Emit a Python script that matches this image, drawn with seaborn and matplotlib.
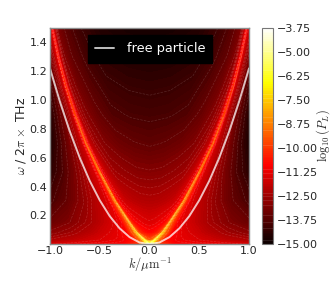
import seaborn as sns
import matplotlib.pyplot as plt
import numpy as np

# frequency rows and where the bright ridge sits on each row
omega_rows = [0.0, 0.03, 0.08, 0.15, 0.3, 0.5, 0.7, 0.9, 1.1, 1.3, 1.5]
ridge_k = [0.004, 0.05, 0.128, 0.2, 0.345, 0.5, 0.64, 0.75, 0.845, 0.92, 0.98]

# columns: fraction of the ridge position inside it, fraction of the way to k=1 outside it
inner_frac = [0.0, 0.25, 0.5, 0.7, 0.85, 0.94, 0.98, 1.0]
outer_frac = [0.03, 0.1, 0.25, 0.5, 0.75, 1.0]

# log10(P_L) on that grid
log_pl = [
    [-4.5, -4.5, -4.5, -4.5, -4.5, -4.5, -4.5, -4.5, -7.5, -10.0, -10.9, -11.1, -11.3, -11.6],
    [-9.6, -9.5, -9.2, -8.8, -8.0, -7.5, -7.1, -6.8, -8.8, -10.6, -11.2, -11.6, -12.0, -12.3],
    [-10.9, -10.8, -10.6, -10.3, -9.8, -9.2, -8.5, -7.7, -9.2, -10.8, -11.4, -12.0, -12.5, -12.9],
    [-11.5, -11.4, -11.2, -11.0, -10.6, -10.0, -9.2, -8.2, -9.7, -11.1, -11.7, -12.4, -13.0, -13.4],
    [-12.2, -12.15, -12.0, -11.8, -11.4, -10.8, -9.9, -8.7, -10.1, -11.4, -12.0, -12.8, -13.5, -14.0],
    [-12.95, -12.9, -12.7, -12.5, -12.0, -11.4, -10.5, -9.1, -10.5, -11.6, -12.2, -13.1, -13.9, -14.5],
    [-13.6, -13.5, -13.3, -13.0, -12.5, -11.9, -10.9, -9.5, -10.8, -11.8, -12.4, -13.3, -14.1, -14.7],
    [-14.0, -13.95, -13.8, -13.4, -12.9, -12.3, -11.2, -9.9, -11.0, -11.9, -12.5, -13.3, -14.0, -14.6],
    [-14.3, -14.25, -14.1, -13.7, -13.2, -12.6, -11.5, -10.2, -11.2, -11.8, -12.3, -13.0, -13.6, -14.1],
    [-14.6, -14.55, -14.4, -14.0, -13.5, -12.9, -11.8, -10.5, -11.2, -11.6, -11.9, -12.4, -12.8, -13.1],
    [-14.8, -14.75, -14.6, -14.2, -13.7, -13.1, -12.0, -10.8, -11.2, -11.3, -11.4, -11.5, -11.7, -11.9],
]

# free particle line
free_k = [-1.0, -0.9, -0.8, -0.7, -0.6, -0.5, -0.4, -0.3, -0.2, -0.1, 0.0,
          0.1, 0.2, 0.3, 0.4, 0.5, 0.6, 0.7, 0.8, 0.9, 1.0]
free_w = [1.22, 0.988, 0.781, 0.598, 0.439, 0.305, 0.195, 0.11, 0.049, 0.012, 0.0,
          0.012, 0.049, 0.11, 0.195, 0.305, 0.439, 0.598, 0.781, 0.988, 1.22]

line_levels = [-14.84, -14.2, -13.9, -13.53, -13.0, -12.75, -12.54, -12.35, -11.56, -11.3,
               -11.09, -9.87, -9.09, -8.65, -8.39, -7.6, -7.43, -7.17, -5.95, -4.95]
cbar_ticks = [-15.0, -13.75, -12.5, -11.25, -10.0, -8.75, -7.5, -6.25, -5.0, -3.75]

sns.set_style('white')
plt.rcParams['mathtext.fontset'] = 'cm'
plt.rcParams['text.color'] = '#262626'
plt.rcParams['axes.labelcolor'] = '#262626'
plt.rcParams['xtick.color'] = '#262626'
plt.rcParams['ytick.color'] = '#262626'

# build the mirrored grid
half_k = []
for r in ridge_k:
    row = [f * r for f in inner_frac] + [r + f * (1 - r) for f in outer_frac]
    half_k.append(row)
half_k = np.array(half_k)
half_z = np.array(log_pl)
K = np.hstack([-half_k[:, :0:-1], half_k])
Z = np.hstack([half_z[:, :0:-1], half_z])
W = np.repeat(np.array(omega_rows)[:, None], K.shape[1], axis=1)

fig = plt.figure(figsize=(3.32, 2.86), dpi=100)
ax = fig.add_axes([50 / 332, 1 - 243.5 / 286, 199 / 332, 215.5 / 286])
cax = fig.add_axes([262 / 332, 1 - 243.5 / 286, 11 / 332, 215.5 / 286])

levels = np.linspace(-15, -3.75, 120)
cf = ax.contourf(K, W, Z, levels=levels, cmap='hot', extend='both', antialiased=False)
cs = ax.contour(K, W, Z, levels=line_levels, colors='white', linewidths=0.5, alpha=0.15)

sns.lineplot(x=free_k, y=free_w, ax=ax, color='white', alpha=0.75, linewidth=1.4,
             label='free particle', sort=False, errorbar=None)

ax.set_xlim(-1, 1)
ax.set_ylim(0.005, 1.5)
ax.set_xticks([-1.0, -0.5, 0.0, 0.5, 1.0])
ax.set_yticks([0.2, 0.4, 0.6, 0.8, 1.0, 1.2, 1.4])
ax.tick_params(length=0, labelsize=8, pad=2)
ax.set_xlabel(r'$k/\mu\mathrm{m}^{-1}$', fontsize=9, labelpad=0)
ax.set_ylabel(r'$\omega$ / 2$\pi\times$ THz', fontsize=9, labelpad=1)
for s in ax.spines.values():
    s.set_color('#8c8c8c')
    s.set_linewidth(1)

leg = ax.legend(loc='upper left', bbox_to_anchor=(0.19, 0.966), fontsize=9.3, frameon=True,
                fancybox=False, facecolor='black', edgecolor='black', framealpha=1,
                borderaxespad=0, handlelength=1.5, handletextpad=0.95, borderpad=0.55)
for t in leg.get_texts():
    t.set_color('white')

cb = fig.colorbar(cf, cax=cax, ticks=cbar_ticks, extendfrac=0)
cb.add_lines(cs)
cb.ax.set_yticklabels(['\u2212%.2f' % abs(t) for t in cbar_ticks])
cb.ax.tick_params(length=0, labelsize=8, pad=3)
cb.set_label(r'$\log_{10}(P_L)$', fontsize=9, labelpad=-3)
cb.outline.set_edgecolor('#777777')

fig.savefig('out.png', dpi=100)
